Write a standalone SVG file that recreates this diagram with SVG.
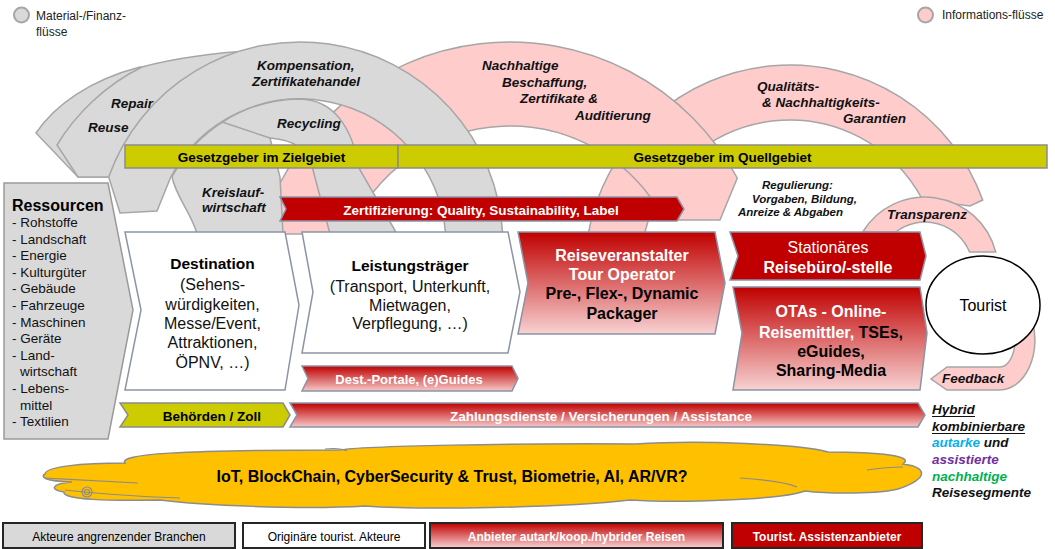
<svg xmlns="http://www.w3.org/2000/svg" width="1055" height="549" viewBox="0 0 1055 549">
<defs>
<linearGradient id="redGrad" x1="0" y1="0" x2="0" y2="1"><stop offset="0" stop-color="#C00000"/><stop offset="1" stop-color="#F8D2D2"/></linearGradient>
<linearGradient id="redGradBar" x1="0" y1="0" x2="0" y2="1"><stop offset="0" stop-color="#C00000"/><stop offset="1" stop-color="#F6C8C8"/></linearGradient>
<style>
.fg{fill:#D9D9D9;stroke:#A6A6A6;stroke-width:1.5}
.fp{fill:#FFCCCC;stroke:#A6A6A6;stroke-width:1.5}
.t{font-family:'Liberation Sans',Arial,sans-serif}
.lbl{font-family:'Liberation Sans',Arial,sans-serif;font-weight:bold;font-style:italic;font-size:13.5px;fill:#111}
.sm{font-size:11.5px}
.box{stroke:#8A94A6;stroke-width:1.5}
.yel{fill:#CCCC00;stroke:#8C8C8C;stroke-width:1.5}
.b{font-weight:bold}
.w{fill:#fff}
.leg{stroke:#262626;stroke-width:2}
</style>
</defs>
<rect width="1055" height="549" fill="#fff"/>

<g id="legend-top">
<circle cx="21.5" cy="15" r="7.5" fill="#D9D9D9" stroke="#A6A6A6" stroke-width="2"/>
<text class="t" x="36" y="20" font-size="12" fill="#222">Material-/Finanz-</text>
<text class="t" x="36" y="36" font-size="12" fill="#222">flüsse</text>
<circle cx="925.5" cy="15" r="7.5" fill="#FFCCCC" stroke="#A6A6A6" stroke-width="2"/>
<text class="t" x="942" y="19" font-size="12" fill="#222">Informations-flüsse</text>
</g>

<g id="flows">
<path id="flow-qualitaet" class="fp" d="M588.2,234 A205,205 0 0 1 982.7,200 L970,206 L922.7,200 A150,150 0 0 0 644.4,234 Z"/>
<path id="flow-beschaffung" class="fp" d="M260.6,234 A258,258 0 0 1 737.3,178 L720,220 L664.5,220 A174,174 0 0 0 349,234 Z"/>
<path id="flow-reuse" class="fg" d="M36,133 C55,105 90,80 140,67 L200,70 L112,177 L78,177 Z"/>
<path id="flow-repair" class="fg" d="M57,145 C75,115 105,85 142,67 C180,57 225,52 262,50 L240,110 L112,177 L78,177 Z"/>
<path id="flow-kompensation" class="fg" d="M108.7,177 A203,203 0 0 1 502.7,234 L445.6,234 A146,146 0 0 0 170.8,177 L157,211 L120,213 Z"/>
<path id="flow-recycling" class="fg" d="M397,234 L360,170 C352,128 335,100 300,99 A146,146 0 0 0 172,177 C176,197 192,214 197,234 L283,234 L280,177 L270,138 C295,140 310,150 313,170 L330,234 Z"/>
<path class="fg" fill="none" d="M222,122 L270,138"/>
<path id="flow-transparenz" class="fp" d="M862.7,232 A73,73 0 0 1 995.7,252 L969.5,252 A48,48 0 0 0 895.7,232 Z"/>
<path id="flow-feedback" class="fp" d="M1032,320 A35,50 0 0 1 1000,390 L947,390 L931,379 L947,367 L1000,367 A15,27 0 0 0 1015,340 L1015,320 Z"/>
<text class="lbl" x="111" y="108">Repair</text>
<text class="lbl" x="88" y="132">Reuse</text>
<text class="lbl" x="257" y="70">Kompensation,</text>
<text class="lbl" x="252" y="86">Zertifikatehandel</text>
<text class="lbl" x="277" y="128">Recycling</text>
<text class="lbl" x="202" y="197">Kreislauf-</text>
<text class="lbl" x="202" y="212">wirtschaft</text>
<text class="lbl" x="482" y="70">Nachhaltige</text>
<text class="lbl" x="502" y="86.5">Beschaffung,</text>
<text class="lbl" x="520" y="103">Zertifikate &amp;</text>
<text class="lbl" x="575" y="120">Auditierung</text>
<text class="lbl" x="757" y="90.5">Qualitäts-</text>
<text class="lbl" x="762" y="106.5">&amp; Nachhaltigkeits-</text>
<text class="lbl" x="843" y="123">Garantien</text>
<text class="lbl sm" x="762" y="189">Regulierung:</text>
<text class="lbl sm" x="752" y="202.5">Vorgaben, Bildung,</text>
<text class="lbl sm" x="738" y="216">Anreize &amp; Abgaben</text>
<text class="lbl" x="887" y="219" font-size="12">Transparenz</text>
<text class="lbl" x="942" y="383" font-size="12">Feedback</text>
</g>

<g id="gesetzgeber-ziel">
<rect class="yel" x="125" y="145" width="273" height="23"/>
<text class="t b" x="261.5" y="162" font-size="13.5" text-anchor="middle">Gesetzgeber im Zielgebiet</text>
</g>
<g id="gesetzgeber-quell">
<rect class="yel" x="398" y="145" width="649" height="23"/>
<text class="t b" x="722.5" y="162" font-size="13.5" text-anchor="middle">Gesetzgeber im Quellgebiet</text>
</g>

<g id="zertifizierung">
<path class="box" fill="#C00000" d="M280,197 L677,197 L684,209 L677,221 L280,221 L286,209 Z"/>
<text class="t b w" x="481" y="214.5" font-size="13.5" text-anchor="middle">Zertifizierung: Quality, Sustainability, Label</text>
</g>

<g id="ressourcen">
<path fill="#D9D9D9" stroke="#9A9A9A" stroke-width="1.5" d="M4,183 L108,183 L133,310 L108,439 L4,439 Z"/>
<text class="t b" x="12" y="211" font-size="16">Ressourcen</text>
<g class="t" font-size="13.5" fill="#111">
<text x="12" y="227">- Rohstoffe</text>
<text x="12" y="243.6">- Landschaft</text>
<text x="12" y="260.2">- Energie</text>
<text x="12" y="276.8">- Kulturgüter</text>
<text x="12" y="293.4">- Gebäude</text>
<text x="12" y="310">- Fahrzeuge</text>
<text x="12" y="326.6">- Maschinen</text>
<text x="12" y="343.2">- Geräte</text>
<text x="12" y="359.8">- Land-</text>
<text x="20" y="376.4">wirtschaft</text>
<text x="12" y="393">- Lebens-</text>
<text x="20" y="409.6">mittel</text>
<text x="12" y="426.2">- Textilien</text>
</g>
</g>

<g id="destination">
<path class="box" fill="#fff" d="M125,232 L285,232 L299,305 L285,390 L125,390 L141,310 Z"/>
<text class="t b" x="212.5" y="268.5" font-size="15.5" text-anchor="middle">Destination</text>
<g class="t" font-size="16" text-anchor="middle" fill="#111">
<text x="212.5" y="290">(Sehens-</text>
<text x="212.5" y="309.5">würdigkeiten,</text>
<text x="212.5" y="328.5">Messe/Event,</text>
<text x="212.5" y="348">Attraktionen,</text>
<text x="212.5" y="367.5">ÖPNV, …)</text>
</g>
</g>

<g id="leistungstraeger">
<path class="box" fill="#fff" d="M302,232 L508,232 L520,292 L508,353 L302,353 L313,292 Z"/>
<text class="t b" x="410" y="270.5" font-size="15.5" text-anchor="middle">Leistungsträger</text>
<g class="t" font-size="16" text-anchor="middle" fill="#111">
<text x="410" y="291.5">(Transport, Unterkunft,</text>
<text x="410" y="310.5">Mietwagen,</text>
<text x="410" y="329">Verpflegung, …)</text>
</g>
</g>

<g id="dest-portale">
<path class="box" fill="url(#redGradBar)" d="M302,366 L512,366 L518,378.5 L512,391 L302,391 L308,378.5 Z"/>
<text class="t b w" x="409" y="383.5" font-size="13" text-anchor="middle">Dest.-Portale, (e)Guides</text>
</g>

<g id="reiseveranstalter">
<path class="box" fill="url(#redGrad)" d="M518,232 L715,232 L725,283 L715,334 L518,334 L528,283 Z"/>
<g class="t b" font-size="16" text-anchor="middle">
<text class="w" x="622" y="261">Reiseveranstalter</text>
<text class="w" x="622" y="280">Tour Operator</text>
<text x="622" y="299">Pre-, Flex-, Dynamic</text>
<text x="622" y="318.5">Packager</text>
</g>
</g>

<g id="reisebuero">
<path class="box" fill="#C00000" d="M730,232 L920,232 L926,256 L920,280 L730,280 L738,256 Z"/>
<text class="t w" x="828" y="252.5" font-size="16" text-anchor="middle">Stationäres</text>
<text class="t b w" x="828" y="272.5" font-size="16" text-anchor="middle">Reisebüro/-stelle</text>
</g>

<g id="otas">
<path class="box" fill="url(#redGrad)" d="M733,287 L920,287 L927,333 L920,390 L733,390 L742,333 Z"/>
<g class="t b" font-size="16" text-anchor="middle">
<text class="w" x="831" y="317">OTAs - Online-</text>
<text x="831" y="337.5"><tspan fill="#fff">Reisemittler,</tspan><tspan fill="#000"> TSEs,</tspan></text>
<text x="831" y="357">eGuides,</text>
<text x="831" y="375.5">Sharing-Media</text>
</g>
</g>

<g id="tourist">
<ellipse cx="983" cy="305" rx="57" ry="49" fill="#fff" stroke="#000" stroke-width="1.5"/>
<text class="t" x="983" y="311" font-size="16" text-anchor="middle">Tourist</text>
</g>

<g id="behoerden">
<path class="yel" d="M120,403 L283,403 L290,415 L283,427 L120,427 L128,415 Z"/>
<text class="t b" x="212" y="421" font-size="13.5" text-anchor="middle">Behörden / Zoll</text>
</g>

<g id="zahlungsdienste">
<path class="box" fill="url(#redGradBar)" d="M290,403 L918,403 L925,415 L918,427 L290,427 L297,415 Z"/>
<text class="t b w" x="601" y="421" font-size="13.5" text-anchor="middle">Zahlungsdienste / Versicherungen / Assistance</text>
</g>

<g id="hybrid-text">
<g class="lbl">
<text x="932" y="414">Hybrid</text>
<text x="932" y="431">kombinierbare</text>
<text x="932" y="447"><tspan fill="#00B0F0">autarke</tspan> und</text>
<text x="932" y="464" fill="#7030A0">assistierte</text>
<text x="932" y="481" fill="#00B050">nachhaltige</text>
<text x="932" y="497">Reisesegmente</text>
</g>
<line x1="932" y1="416.5" x2="975" y2="416.5" stroke="#111" stroke-width="1"/>
<line x1="932" y1="433.5" x2="1025" y2="433.5" stroke="#111" stroke-width="1"/>
</g>

<g id="technologie">
<path fill="#FFC000" stroke="#8C8C8C" stroke-width="1.5" d="M45,474 C45,467 80,463 125,463 C118,454 180,450 340,450 C360,446 520,443 635,444 C700,440 800,444 828,452 C880,452 915,456 903,464 C925,467 932,477 898,489 C880,494 830,494 805,491 C780,500 680,503 630,500 C560,508 420,510 365,506 C300,510 200,505 160,500 C110,501 62,500 64,492 C50,490 50,484 72,482 C44,481 40,477 45,474 Z"/>
<g fill="none" stroke="#8C8C8C" stroke-width="1.2">
<path d="M45,478 C80,480 120,482 138,483"/>
<path d="M65,490 C100,494 150,497 180,498"/>
<path d="M740,478 C770,480 790,484 797,487"/>
<path d="M867,470 C880,468 895,467 903,467"/>
<path d="M325,449 C335,448 343,449 347,451"/>
<circle cx="87" cy="492" r="5"/>
<circle cx="87" cy="492" r="2.5"/>
</g>
<text class="t b" x="452" y="482" font-size="16" text-anchor="middle">IoT, BlockChain, CyberSecurity &amp; Trust, Biometrie, AI, AR/VR?</text>
</g>

<g id="legend-bottom">
<g id="leg-angrenzend"><rect class="leg" x="3" y="523" width="232" height="25" fill="#D9D9D9"/>
<text class="t" x="119" y="540.5" font-size="12" text-anchor="middle">Akteure angrenzender Branchen</text></g>
<g id="leg-originaer"><rect class="leg" x="243" y="523" width="182" height="25" fill="#fff"/>
<text class="t" x="334" y="540.5" font-size="12" text-anchor="middle">Originäre tourist. Akteure</text></g>
<g id="leg-anbieter"><rect class="leg" x="430" y="523" width="293" height="25" fill="url(#redGrad)"/>
<text class="t b w" x="576.5" y="540.5" font-size="12" text-anchor="middle">Anbieter autark/koop./hybrider Reisen</text></g>
<g id="leg-assistenz"><rect class="leg" x="732" y="523" width="190" height="25" fill="#C00000"/>
<text class="t b w" x="827" y="540.5" font-size="12" text-anchor="middle">Tourist. Assistenzanbieter</text></g>
</g>
</svg>
